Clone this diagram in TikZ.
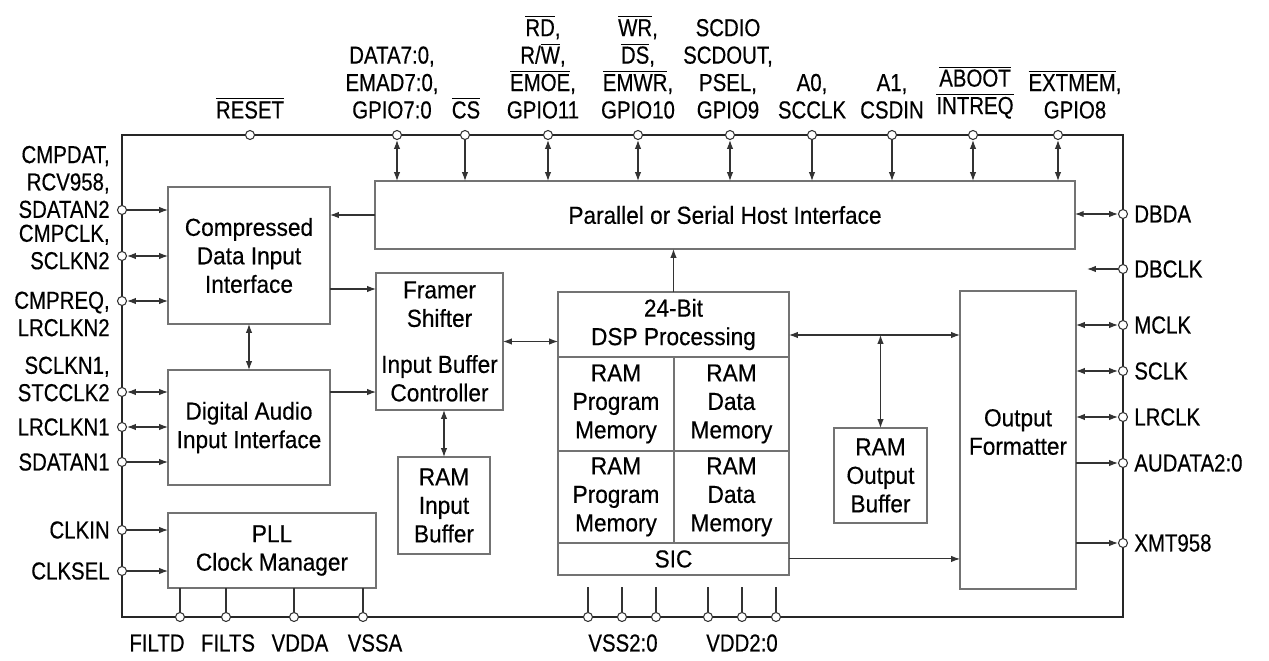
\documentclass[tikz,border=0pt]{standalone}
\usepackage{fontspec}
\setmainfont{Liberation Sans}[FakeStretch=0.92, FakeBold=0.4]
\newfontfamily\pinfont{Liberation Sans}[FakeStretch=0.83, FakeBold=0.4]
\usetikzlibrary{arrows.meta, positioning}
\newcommand{\ovl}[1]{$\overline{\hbox{#1}}$}

\begin{document}
\begin{tikzpicture}[x=0.02cm, y=-0.02cm,
      blk/.style={draw=black!55, line width=0.8pt, rectangle, align=center,
                  inner sep=0pt, outer sep=0pt,
                  font=\fontsize{14}{16.2}\selectfont},
      padcirc/.style={draw=black!80, fill=white, circle, inner sep=0pt,
                      minimum size=0.18cm, line width=0.6pt},
      plbl/.style={inner sep=0pt, align=center,
                   font=\pinfont\fontsize{14}{15.6}\selectfont},
      wire/.style={draw=black!80, line width=0.6pt},
      >={Latex[length=5pt,width=3.6pt]}]
    \useasboundingbox (0,0) rectangle (1269,660);

    % chip outline
    \node[draw=black!85, line width=1.3pt, inner sep=0pt, outer sep=0pt,
          minimum width=20.02cm, minimum height=9.64cm] (chip) at (622.5,376) {};

    % blocks
    \node[blk, minimum width=14cm, minimum height=1.36cm] (host) at (725,215)
          {Parallel or Serial Host Interface};
    \node[blk, minimum width=3.24cm, minimum height=2.74cm] (cdi) at (249,255.5)
          {Compressed\\Data Input\\Interface};
    \node[blk, minimum width=3.24cm, minimum height=2.3cm] (dai) at (249,427.5)
          {Digital Audio\\Input Interface};
    \node[blk, minimum width=4.16cm, minimum height=1.5cm] (pll) at (272,550.5)
          {PLL\\Clock Manager};
    \node[blk, minimum width=2.54cm, minimum height=2.74cm] (frm) at (439.5,341.5)
          {Framer\\Shifter\\[10pt]Input Buffer\\Controller};
    \node[blk, minimum width=1.84cm, minimum height=1.94cm] (ramin) at (444,505.5)
          {RAM\\Input\\Buffer};
    \node[blk, minimum width=4.62cm, minimum height=1.3cm] (dsp) at (673.5,324.5)
          {24-Bit\\DSP Processing};
    \node[blk, anchor=north west, minimum width=2.32cm, minimum height=1.88cm]
          (pm1) at (dsp.south west) {RAM\\Program\\Memory};
    \node[blk, anchor=north west, minimum width=2.3cm, minimum height=1.88cm]
          (dm1) at (pm1.north east) {RAM\\Data\\Memory};
    \node[blk, anchor=north west, minimum width=2.32cm, minimum height=1.84cm]
          (pm2) at (pm1.south west) {RAM\\Program\\Memory};
    \node[blk, anchor=north west, minimum width=2.3cm, minimum height=1.84cm]
          (dm2) at (pm2.north east) {RAM\\Data\\Memory};
    \node[blk, anchor=north west, minimum width=4.62cm, minimum height=0.64cm]
          (sic) at (pm2.south west) {SIC};
    \node[blk, minimum width=1.86cm, minimum height=1.9cm] (ramout) at (880.5,475.5)
          {RAM\\Output\\Buffer};
    \node[blk, minimum width=2.32cm, minimum height=5.96cm] (ofmt) at (1018,440)
          {Output\\Formatter\\[-7pt]};

    % inner connections
    \coordinate (cdio) at ([yshift=-0.67cm]cdi.east);
    \coordinate (daio) at ([yshift=0.71cm]dai.east);
    \coordinate (dspo) at ([yshift=-0.21cm]dsp.east);
    \draw[wire, ->] (host.west) -- (host.west -| cdi.east);
    \draw[wire, <->] (cdi.south) -- (dai.north);
    \draw[wire, ->] (cdio) -- (cdio -| frm.west);
    \draw[wire, ->] (daio) -- (daio -| frm.west);
    \draw[wire, <->] (frm.east) -- (frm.east -| dsp.west);
    \draw[wire, <->] (ramin.north |- frm.south) -- (ramin.north);
    \draw[wire, ->] (dsp.north) -- (dsp.north |- host.south);
    \draw[wire, <->] (dspo) -- (dspo -| ofmt.west);
    \draw[wire, <->] (ramout.north |- dspo) -- (ramout.north);
    \draw[wire, ->] (sic.east) -- (sic.east -| ofmt.west);

    % top pins
    \node[padcirc] (pRST) at (250,135) {};
    \node[padcirc] (pDAT) at (397,135) {};
    \node[padcirc] (pCS) at (465,135) {};
    \node[padcirc] (pRD) at (548,135) {};
    \node[padcirc] (pWR) at (638,135) {};
    \node[padcirc] (pSCD) at (730,135) {};
    \node[padcirc] (pA0) at (812,135) {};
    \node[padcirc] (pA1) at (892,135) {};
    \node[padcirc] (pABT) at (973,135) {};
    \node[padcirc] (pEXT) at (1058,135) {};
    \foreach \p in {pDAT,pRD,pWR,pSCD,pABT,pEXT}
      \draw[wire, <->] (\p) -- (\p |- host.north);
    \foreach \p in {pCS,pA0,pA1}
      \draw[wire, ->] (\p) -- (\p |- host.north);

    \node[plbl, anchor=south] (lRST) at (250,119) {\ovl{RESET}};
    \node[plbl, anchor=south] (lDAT) at (392,119) {DATA7:0,\\EMAD7:0,\\GPIO7:0};
    \node[plbl, anchor=south] (lCS) at (466,119) {\ovl{CS}};
    \node[plbl, anchor=south] (lRD) at (543,119)
          {\ovl{RD},\\R/\ovl{W},\\\ovl{EMOE},\\GPIO11};
    \node[plbl, anchor=south] (lWR) at (638,119)
          {\ovl{WR},\\\ovl{DS},\\\ovl{EMWR},\\GPIO10};
    \node[plbl, anchor=south] (lSCD) at (728,119) {SCDIO\\SCDOUT,\\PSEL,\\GPIO9};
    \node[plbl, anchor=south] (lA0) at (812,119) {A0,\\SCCLK};
    \node[plbl, anchor=south] (lA1) at (892,119) {A1,\\CSDIN};
    \node[plbl, anchor=south] (lABT) at (975,119) {\ovl{ABOOT}\\\ovl{INTREQ}};
    \node[plbl, anchor=south] (lEXT) at (1075,119) {\ovl{EXTMEM},\\GPIO8};

    % left pins
    \node[padcirc] (pSDN2) at (122,210) {};
    \node[padcirc] (pSCN2) at (122,256) {};
    \node[padcirc] (pLRN2) at (122,301) {};
    \node[padcirc] (pSTC2) at (122,392) {};
    \node[padcirc] (pLRN1) at (122,427) {};
    \node[padcirc] (pSDN1) at (122,462) {};
    \node[padcirc] (pCKIN) at (122,530) {};
    \node[padcirc] (pCKSL) at (122,571) {};
    \draw[wire, ->] (pSDN2) -- (pSDN2 -| cdi.west);
    \draw[wire, <->] (pSCN2) -- (pSCN2 -| cdi.west);
    \draw[wire, <->] (pLRN2) -- (pLRN2 -| cdi.west);
    \draw[wire, <->] (pSTC2) -- (pSTC2 -| dai.west);
    \draw[wire, <->] (pLRN1) -- (pLRN1 -| dai.west);
    \draw[wire, ->] (pSDN1) -- (pSDN1 -| dai.west);
    \draw[wire, ->] (pCKIN) -- (pCKIN -| pll.west);
    \draw[wire, ->] (pCKSL) -- (pCKSL -| pll.west);

    \node[plbl, anchor=east, align=right] (lSDN2) at (110,182)
          {CMPDAT,\\RCV958,\\SDATAN2};
    \node[plbl, anchor=east, align=right] (lSCN2) at (110,247) {CMPCLK,\\SCLKN2};
    \node[plbl, anchor=east, align=right] (lLRN2) at (110,314) {CMPREQ,\\LRCLKN2};
    \node[plbl, anchor=east, align=right] (lSTC2) at (110,379) {SCLKN1,\\STCCLK2};
    \node[plbl, anchor=east] (lLRN1) at (110,427) {LRCLKN1};
    \node[plbl, anchor=east] (lSDN1) at (110,462) {SDATAN1};
    \node[plbl, anchor=east] (lCKIN) at (110,530) {CLKIN};
    \node[plbl, anchor=east] (lCKSL) at (110,571) {CLKSEL};

    % right pins
    \node[padcirc] (pDBDA) at (1123,214) {};
    \node[padcirc] (pDBCK) at (1123,269) {};
    \node[padcirc] (pMCLK) at (1123,325) {};
    \node[padcirc] (pSCLK) at (1123,371) {};
    \node[padcirc] (pLRCK) at (1123,417) {};
    \node[padcirc] (pAUD) at (1123,463) {};
    \node[padcirc] (pXMT) at (1123,543) {};
    \coordinate (dbckend) at (1087,269);
    \draw[wire, <->] (host.east |- pDBDA) -- (pDBDA);
    \draw[wire, ->] (pDBCK) -- (dbckend);
    \draw[wire, <->] (ofmt.east |- pMCLK) -- (pMCLK);
    \draw[wire, <->] (ofmt.east |- pSCLK) -- (pSCLK);
    \draw[wire, <->] (ofmt.east |- pLRCK) -- (pLRCK);
    \draw[wire, ->] (ofmt.east |- pAUD) -- (pAUD);
    \draw[wire, ->] (ofmt.east |- pXMT) -- (pXMT);

    \node[plbl, anchor=west] (lDBDA) at (1134,214) {DBDA};
    \node[plbl, anchor=west] (lDBCK) at (1134,269) {DBCLK};
    \node[plbl, anchor=west] (lMCLK) at (1134,325) {MCLK};
    \node[plbl, anchor=west] (lSCLK) at (1134,371) {SCLK};
    \node[plbl, anchor=west] (lLRCK) at (1134,417) {LRCLK};
    \node[plbl, anchor=west] (lAUD) at (1134,463) {AUDATA2:0};
    \node[plbl, anchor=west] (lXMT) at (1134,543) {XMT958};

    % bottom pins
    \node[padcirc] (pFD) at (180,617) {};
    \node[padcirc] (pFS) at (226,617) {};
    \node[padcirc] (pVDA) at (294,617) {};
    \node[padcirc] (pVSA) at (363,617) {};
    \foreach \p in {pFD,pFS,pVDA,pVSA}
      \draw[wire] (\p) -- (\p |- pll.south);
    \foreach \i/\xx in {1/588,2/622,3/656,4/708,5/742,6/776} {
      \node[padcirc] (pv\i) at (\xx,617) {};
      \draw[wire] (pv\i) -- ++(0,-30);
    }

    \node[plbl] (lFD) at (157,643) {FILTD};
    \node[plbl] (lFS) at (228,643) {FILTS};
    \node[plbl] (lVDA) at (300,643) {VDDA};
    \node[plbl] (lVSA) at (375,643) {VSSA};
    \node[plbl] (lVSS) at (623,643) {VSS2:0};
    \node[plbl] (lVDD) at (742,643) {VDD2:0};
  \end{tikzpicture}
\end{document}
